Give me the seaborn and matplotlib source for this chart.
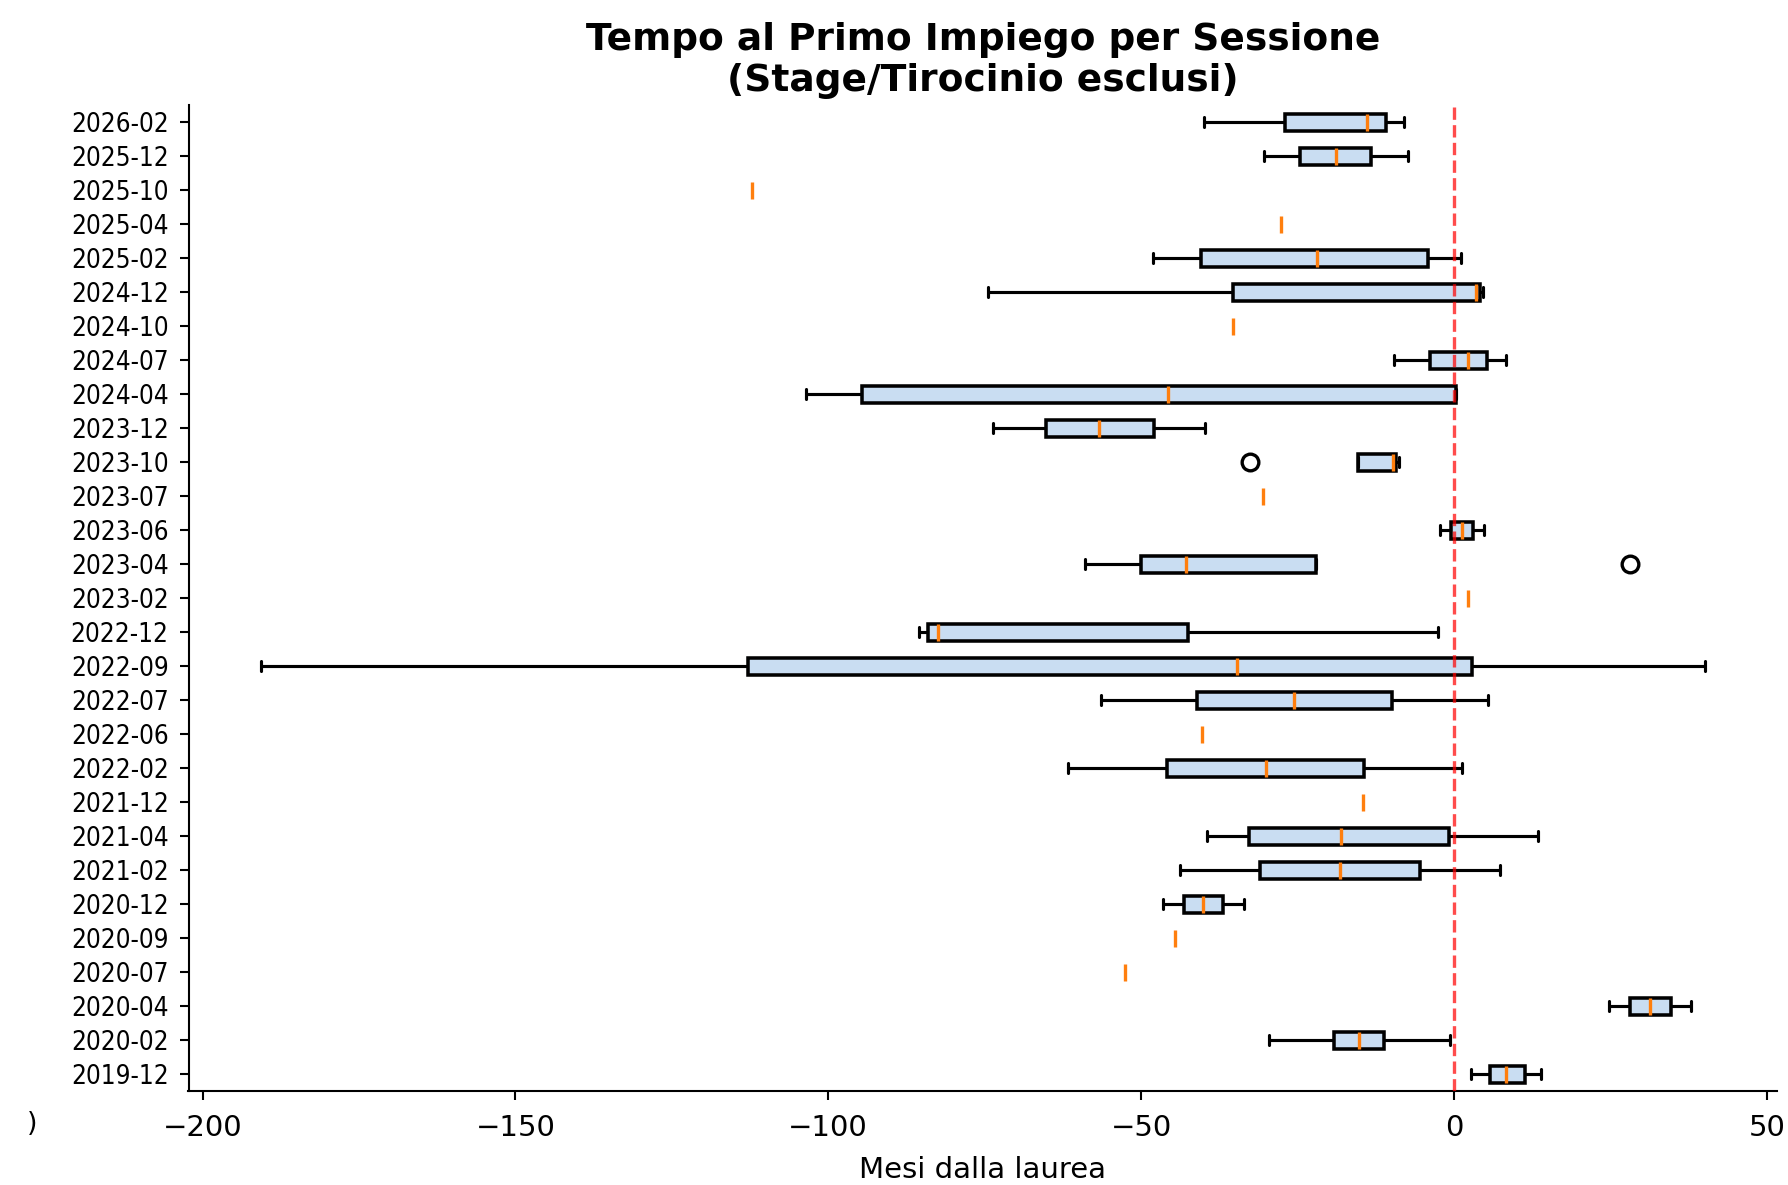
import matplotlib
matplotlib.use("Agg")
import matplotlib.pyplot as plt
from matplotlib import font_manager as fm
import numpy as np
import pandas as pd
import seaborn as sns

# Sessions, bottom to top as shown in the chart
sessions = ["2019-12", "2020-02", "2020-04", "2020-07", "2020-09", "2020-12",
            "2021-02", "2021-04", "2021-12", "2022-02", "2022-06", "2022-07",
            "2022-09", "2022-12", "2023-02", "2023-04", "2023-06", "2023-07",
            "2023-10", "2023-12", "2024-04", "2024-07", "2024-10", "2024-12",
            "2025-02", "2025-04", "2025-10", "2025-12", "2026-02"]

# Five-number summaries (months from graduation)
whisker_low = [2.8, -29.5, 24.8, -52.5, -44.6, -46.5, -43.7, -39.5, -14.5, -61.6,
               -40.2, -56.4, -190.7, -85.5, 2.3, -59.0, -2.3, -30.5, -15.4, -73.7,
               -103.6, -9.6, -35.3, -74.4, -48.1, -27.6, -112.2, -30.3, -40.0]
q1 = [5.7, -19.1, 28.1, -52.5, -44.6, -43.2, -31.0, -32.8, -14.5, -45.9,
      -40.2, -41.1, -112.8, -84.1, 2.3, -50.0, -0.5, -30.5, -15.4, -65.2,
      -94.6, -3.8, -35.3, -35.3, -40.4, -27.6, -112.2, -24.6, -27.0]
median = [8.4, -15.1, 31.4, -52.5, -44.6, -40.1, -18.2, -18.0, -14.5, -30.1,
          -40.2, -25.5, -34.6, -82.5, 2.3, -42.8, 1.3, -30.5, -9.7, -56.7,
          -45.7, 2.2, -35.3, 3.5, -21.9, -27.6, -112.2, -18.8, -13.9]
q3 = [11.3, -11.1, 34.7, -52.5, -44.6, -36.9, -5.4, -0.8, -14.5, -14.4,
      -40.2, -9.9, 2.9, -42.5, 2.3, -22.1, 3.1, -30.5, -9.3, -48.0,
      0.3, 5.3, -35.3, 4.2, -4.1, -27.6, -112.2, -13.2, -10.9]
whisker_high = [14.0, -0.7, 37.9, -52.5, -44.6, -33.6, 7.4, 13.4, -14.5, 1.3,
                -40.2, 5.5, 40.1, -2.6, 2.3, -22.1, 4.8, -30.5, -8.7, -39.7,
                0.3, 8.3, -35.3, 4.6, 1.1, -27.6, -112.2, -7.3, -8.0]

# Outliers
flier_sessions = ["2023-04", "2023-10"]
flier_values = [28.2, -32.6]

# Build long-form table whose quartiles reproduce the summaries
rows = []
for s, lo, a, m, b, hi in zip(sessions, whisker_low, q1, median, q3, whisker_high):
    if lo == hi:
        pts = [m]
    else:
        pts = [lo, lo, a, a, m, m, b, hi, hi]
        for fs, fv in zip(flier_sessions, flier_values):
            if fs == s:
                if fv < lo:
                    pts[0] = fv
                else:
                    pts[-1] = fv
    for p in pts:
        rows.append({"sessione": s, "mesi": p})
df = pd.DataFrame(rows)

sns.set_style("ticks")
plt.rcParams["font.family"] = ["DejaVu Sans"]
for key in ["text.color", "axes.edgecolor", "axes.labelcolor", "xtick.color", "ytick.color"]:
    plt.rcParams[key] = "black"

# Narrow font for the session labels, if one is available
names = {f.name for f in fm.fontManager.ttflist}
cond_path = fm.findfont(fm.FontProperties(family="DejaVu Sans", stretch="condensed"))
if "Condensed" in cond_path:
    ylab_kw = dict(family="DejaVu Sans", stretch="condensed", size=12.5)
elif "Liberation Sans Narrow" in names:
    ylab_kw = dict(family="Liberation Sans Narrow", size=14)
else:
    ylab_kw = dict(family="DejaVu Sans", size=11.5)

fig = plt.figure(figsize=(1788 / 150, 1185 / 150), dpi=150)
ax = fig.add_axes([188.5 / 1788, 1 - 1091 / 1185, (1777 - 188.5) / 1788, (1091 - 105) / 1185])

box_color = "#c9ddf2"
sns.boxplot(
    data=df, x="mesi", y="sessione", order=sessions[::-1], orient="h",
    width=0.5, color=box_color, saturation=1, linecolor="black", linewidth=1.6,
    whis=1.5, capwidths=0.32,
    boxprops=dict(linewidth=1.7, edgecolor="black"),
    whiskerprops=dict(linewidth=1.5, color="black"),
    capprops=dict(linewidth=1.5, color="black"),
    medianprops=dict(color="#ff7f0e", linewidth=1.6),
    flierprops=dict(marker="o", markerfacecolor="none", markeredgecolor="black",
                    markersize=8, markeredgewidth=1.6),
    ax=ax,
)

# Sessions with a single graduate: only the median tick is visible
for patch in ax.patches:
    v = patch.get_path().vertices
    if np.ptp(v[:, 0]) == 0:
        patch.set_linewidth(0)
for cap in ax.lines:
    xd = np.asarray(cap.get_xdata(), dtype=float)
    if cap.get_color() in ("black", "k") and len(xd) == 2 and xd[0] == xd[1]:
        if any(abs(xd[0] - m) < 1e-9 for m, lo, hi in zip(median, whisker_low, whisker_high) if lo == hi):
            cap.set_visible(False)

ax.axvline(0, color="red", linestyle="--", linewidth=1.6, alpha=0.7, zorder=3)

ax.set_title("Tempo al Primo Impiego per Sessione\n(Stage/Tirocinio esclusi)",
             fontsize=18, fontweight="bold", pad=6.5)
ax.set_xlabel("Mesi dalla laurea", fontsize=14, labelpad=7)
ax.set_ylabel("")
ax.tick_params(axis="x", labelsize=14, length=4.5, width=1, pad=6.5)
ax.tick_params(axis="y", length=4.5, width=1, pad=5)
for lab in ax.get_yticklabels():
    lab.set_fontfamily(ylab_kw["family"])
    lab.set_fontsize(ylab_kw["size"])
    if "stretch" in ylab_kw:
        lab.set_fontstretch(ylab_kw["stretch"])

sns.despine(ax=ax)
for sp in ["left", "bottom"]:
    ax.spines[sp].set_linewidth(1.0)

fig.text(27 / 1788, 1 - 1124 / 1185, ")", fontsize=13, ha="left", va="center")

fig.savefig("out.png", dpi=150)
